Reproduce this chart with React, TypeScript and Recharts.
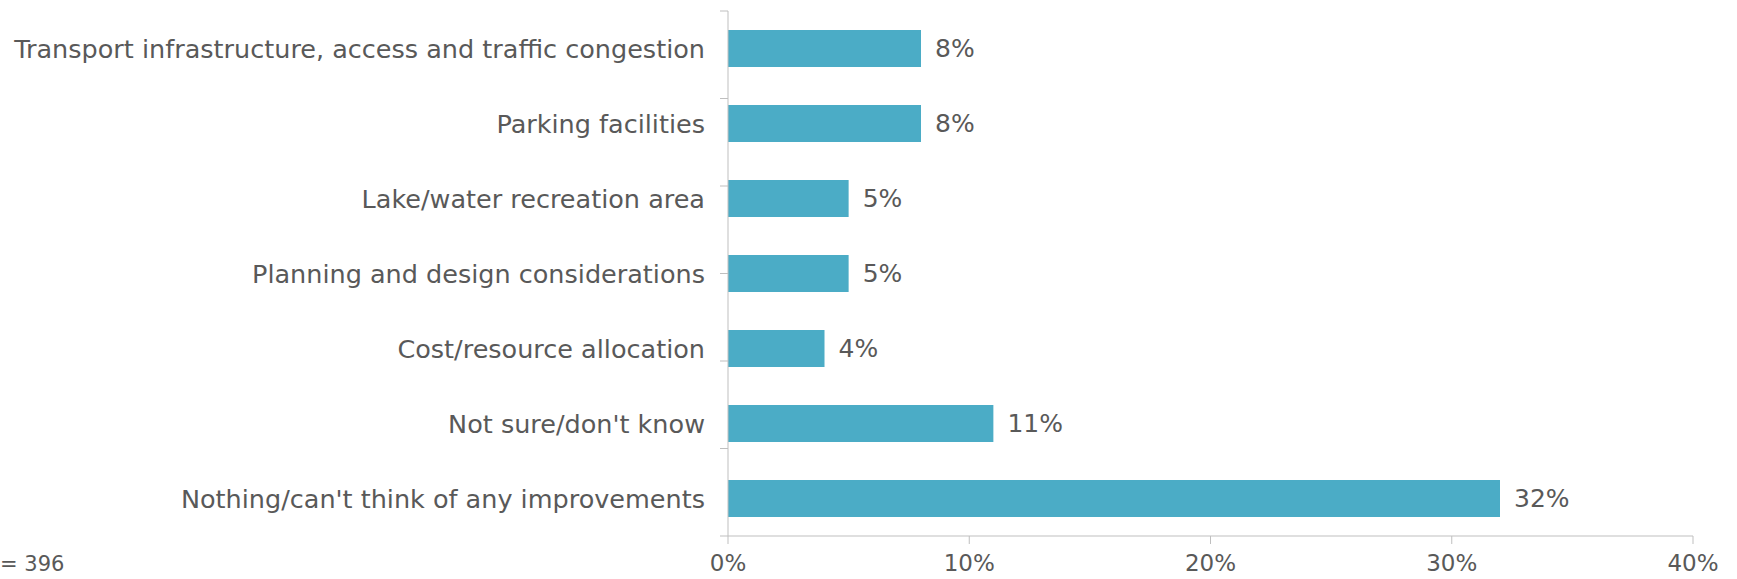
import React from "react";
import { BarChart, Bar, XAxis, YAxis, LabelList } from "recharts";

const categories = [
  "Transport infrastructure, access and traffic congestion",
  "Parking facilities",
  "Lake/water recreation area",
  "Planning and design considerations",
  "Cost/resource allocation",
  "Not sure/don't know",
  "Nothing/can't think of any improvements",
];
const shares = [8, 8, 5, 5, 4, 11, 32];
const xTicks = [0, 10, 20, 30, 40];
const bandEdges = [0, 1, 2, 3, 4, 5, 6, 7];
const sampleNote = "= 396";

const data = categories.map((name, i) => ({ name, value: shares[i] }));

const FONT = "'DejaVu Sans', sans-serif";
const GREY = "#595959";
const AXIS = "#BFBFBF";

// frame axis only draws its line and tick marks, no labels
const NoLabel = () => <g />;

export default function App() {
  return (
    <div style={{ position: "relative", width: 1737, height: 579, background: "#fff", fontFamily: FONT }}>
      <style>{`body{margin:0}`}</style>
      <BarChart
        width={1737}
        height={579}
        data={data}
        layout="vertical"
        margin={{ top: 11, right: 44, bottom: 0, left: 0 }}
        barCategoryGap={19}
      >
        <XAxis
          type="number"
          domain={[0, 40]}
          ticks={xTicks}
          tickFormatter={(v) => `${v}%`}
          height={43}
          tickSize={8}
          tickMargin={11}
          stroke={AXIS}
          tick={{ fill: GREY, fontSize: 23, fontFamily: FONT }}
        />
        <YAxis
          yAxisId="cat"
          type="category"
          dataKey="name"
          width={728}
          axisLine={false}
          tickLine={false}
          tickSize={0}
          tickMargin={23}
          interval={0}
          tick={{ fill: GREY, fontSize: 25.5, fontFamily: FONT }}
        />
        <YAxis
          yAxisId="frame"
          type="number"
          domain={[0, 7]}
          ticks={bandEdges}
          interval={0}
          tick={NoLabel}
          tickLine={{ stroke: AXIS }}
          mirror
          width={1}
          tickSize={-8}
          stroke={AXIS}
          allowDataOverflow
        />
        <Bar yAxisId="cat" dataKey="value" fill="#4BACC6" barSize={37} isAnimationActive={false}>
          <LabelList
            dataKey="value"
            position="right"
            offset={14}
            formatter={(v: any) => `${v}%`}
            style={{ fill: GREY, fontSize: 25, fontFamily: FONT }}
          />
        </Bar>
      </BarChart>
      <div
        style={{
          position: "absolute",
          left: 0,
          top: 552,
          fontSize: 21,
          color: GREY,
          whiteSpace: "nowrap",
        }}
      >
        {sampleNote}
      </div>
    </div>
  );
}
